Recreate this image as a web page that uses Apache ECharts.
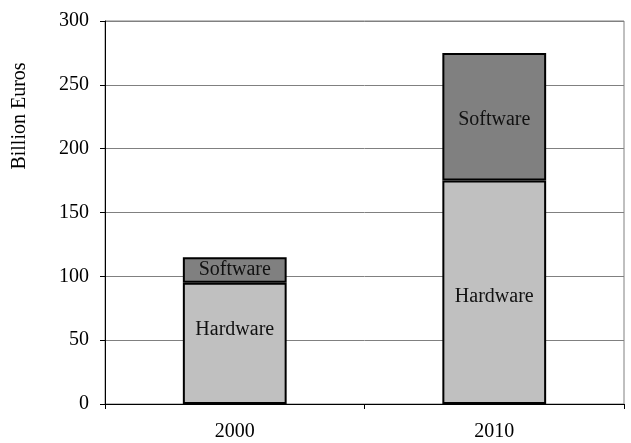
<!DOCTYPE html>
<html>
<head>
<meta charset="utf-8">
<script src="https://cdn.jsdelivr.net/npm/echarts@6/dist/echarts.min.js"></script>
<style>html,body{margin:0;padding:0;background:#fff}#c{width:631px;height:443px}</style>
</head>
<body>
<div id="c"></div>
<script>
var categories = ['2000', '2010'];
var hardware = [95, 175];
var software = [20, 100];
var yTicks = [0, 50, 100, 150, 200, 250, 300];
var seriesNames = ['Hardware', 'Software'];
var yTitle = 'Billion Euros';

var chart = echarts.init(document.getElementById('c'));
var font = 'Liberation Serif';
var lbl = function (name) {
  return {show: true, position: 'inside', formatter: name, color: '#111', fontFamily: font, fontSize: 20};
};
chart.setOption({
  animation: false,
  graphic: [{
    type: 'text', x: 20, y: 116, rotation: Math.PI / 2,
    style: {text: yTitle, fill: '#000', font: '20px "Liberation Serif"', align: 'center', verticalAlign: 'middle'}
  }],
  grid: {left: 105, right: 7, top: 21, bottom: 39, show: true, borderColor: '#808080', borderWidth: 1},
  xAxis: {
    type: 'category', data: categories,
    axisLine: {lineStyle: {color: '#000', width: 1}},
    axisTick: {show: true, length: 5, lineStyle: {color: '#000'}},
    axisLabel: {color: '#000', fontFamily: font, fontSize: 20, margin: 18}
  },
  yAxis: {
    type: 'value', min: yTicks[0], max: yTicks[yTicks.length - 1], interval: 50,
    axisLine: {show: true, lineStyle: {color: '#000', width: 1}},
    axisTick: {show: true, length: 5, lineStyle: {color: '#000'}},
    axisLabel: {color: '#000', fontFamily: font, fontSize: 20, margin: 16},
    splitLine: {lineStyle: {color: '#808080', width: 1}}
  },
  series: [
    {
      name: seriesNames[0], type: 'bar', stack: 't', barWidth: '40%',
      itemStyle: {color: '#c0c0c0', borderColor: '#000', borderWidth: 2},
      label: lbl(seriesNames[0]),
      data: hardware.map(function (v, i) {
        return i === 0 ? {value: v, label: {offset: [0, -14]}} : {value: v, label: {offset: [0, 4]}};
      })
    },
    {
      name: seriesNames[1], type: 'bar', stack: 't', barWidth: '40%',
      itemStyle: {color: '#808080', borderColor: '#000', borderWidth: 2},
      label: lbl(seriesNames[1]),
      data: software.map(function (v, i) { return i === 1 ? {value: v, label: {offset: [0, 3]}} : v; })
    }
  ]
});
</script>
</body>
</html>
